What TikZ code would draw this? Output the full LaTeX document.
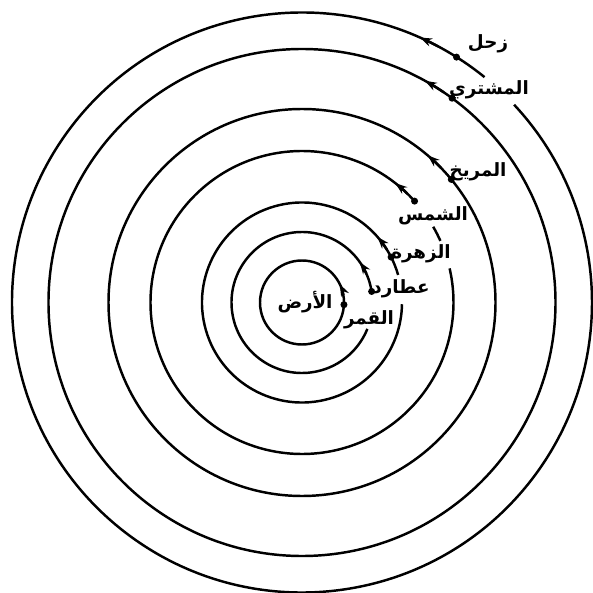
\documentclass[tikz,border=0pt]{standalone}
\usepackage{fontspec}
\newfontfamily\arabicfont[Script=Arabic]{DejaVu Sans}
\TeXXeTstate=1
\usepackage{tikz}
\usetikzlibrary{arrows.meta, positioning, calc}
\tikzstyle{orbit}  = [line width=1.75pt]
\tikzstyle{planet} = [circle, fill=black, inner sep=0pt, minimum size=5pt]
\tikzstyle{motion} = [line width=1.75pt, -{Stealth[length=8.5pt, width=6pt]}]
\tikzstyle{pname}  = [inner sep=0pt, font=\arabicfont\bfseries\fontsize{13}{15}\selectfont]

\begin{document}
\begin{tikzpicture}[scale=0.025]
\useasboundingbox (-302,-290.5) rectangle (291,302.5);
\coordinate (centre) at (0,0);

% the spheres, innermost first
\draw [orbit] (centre) circle [radius=42];
\draw [orbit] (8:70.5) arc [start angle=8, end angle=338, radius=70.5];
\draw [orbit] (16:100) arc [start angle=16, end angle=359, radius=100];
\draw [orbit] (42:151.5) arc [start angle=42, end angle=373, radius=151.5];
\draw [orbit] (24:151.5) arc [start angle=24, end angle=30, radius=151.5];
\draw [orbit] (centre) circle [radius=193.5];
\draw [orbit] (centre) circle [radius=253.5];
\draw [orbit] (51:290) arc [start angle=51, end angle=403, radius=290];

% direction of motion
\draw [motion] (10:42) arc [start angle=10, end angle=26, radius=42];
\draw [motion] (24:70.5) arc [start angle=24, end angle=35, radius=70.5];
\draw [motion] (32:100) arc [start angle=32, end angle=41, radius=100];
\draw [motion] (46:151.5) arc [start angle=46, end angle=52, radius=151.5];
\draw [motion] (44:193.5) arc [start angle=44, end angle=49.5, radius=193.5];
\draw [motion] (56:253.5) arc [start angle=56, end angle=61, radius=253.5];
\draw [motion] (62:290) arc [start angle=62, end angle=66, radius=290];

% planets
\node (moon)    [planet] at (-3:42) {};
\node (mercury) [planet] at (9:70.5) {};
\node (venus)   [planet] at (27:100) {};
\node (sun)     [planet] at (42:151.5) {};
\node (mars)    [planet] at (39.5:193.5) {};
\node (jupiter) [planet] at (53.7:253.5) {};
\node (saturn)  [planet] at (57.8:290) {};

% names
\node (earthname)   [pname] at (3,0.5)     {\beginR الأرض\endR};
\node (moonname)    [pname] at (67,-17)    {\beginR القمر\endR};
\node (mercuryname) [pname] at (99,13.5)   {\beginR عطارد\endR};
\node (venusname)   [pname] at (119,48.5)  {\beginR الزهرة\endR};
\node (sunname)     [pname] at (131,87)    {\beginR الشمس\endR};
\node (marsname)    [pname] at (176,130.5) {\beginR المريخ\endR};
\node (jupitername) [pname] at (187,212.5) {\beginR المشتري\endR};
\node (saturnname)  [pname] at (186,258.5) {\beginR زحل\endR};
\end{tikzpicture}
\end{document}
